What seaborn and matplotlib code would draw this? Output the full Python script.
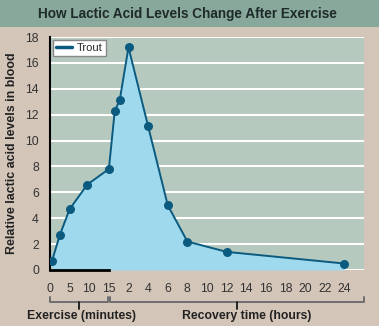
import matplotlib
matplotlib.use("Agg")
import matplotlib.pyplot as plt
import matplotlib.transforms as mtransforms
import seaborn as sns
import pandas as pd
import numpy as np

# ---- data ----
exercise_minutes = [0.5, 2.5, 5, 9.5, 15]
exercise_levels = [0.7, 2.7, 4.7, 6.6, 7.8]
recovery_hours = [0.6, 1.1, 2, 4, 6, 8, 12, 24]
recovery_levels = [12.3, 13.1, 17.2, 11.1, 5.0, 2.2, 1.4, 0.5]
minute_ticks = ["0", "5", "10", "15"]
hour_ticks = ["2", "4", "6", "8", "10", "12", "14", "16", "18", "20", "22", "24"]
series_name = "Trout"

# composite axis: 5 min per unit in exercise, 2 h per unit in recovery (recovery starts at 15 min)
pos = [m / 5 for m in exercise_minutes] + [3 + h / 2 for h in recovery_hours]
df = pd.DataFrame({"pos": pos, "level": exercise_levels + recovery_levels, "series": series_name})

sns.set_theme(style="white")
plt.rcParams["font.family"] = ["Liberation Sans", "DejaVu Sans"]

BEIGE = "#d4c5b9"
BAND = "#87a89b"
PLOTBG = "#b6c9bf"
FILL = "#9fd9ee"
LINE = "#0b5b80"

fig = plt.figure(figsize=(3.79, 3.26), dpi=100, facecolor=BEIGE)
W, H = 379, 326
ax = fig.add_axes([50 / W, (H - 270) / H, 314 / W, 233 / H])
ax.set_facecolor(PLOTBG)

# title band
fig.patches.append(plt.Rectangle((0, (H - 27) / H), 1, 27 / H, transform=fig.transFigure,
                                 facecolor=BAND, edgecolor="none", zorder=0))
fig.text(187 / W, (H - 14) / H, "How Lactic Acid Levels Change After Exercise",
         ha="center", va="center", fontsize=9.8, fontweight="bold", color="#1f2a2a")

ax.fill_between(df["pos"], df["level"], 0, color=FILL, zorder=1, linewidth=0)
sns.lineplot(data=df, x="pos", y="level", hue="series", palette=[LINE], marker="o",
             markersize=6.5, markeredgewidth=0, linewidth=1.4, ax=ax, zorder=3)

ax.set_xlim(0, 16)
ax.set_ylim(0, 18)
ax.set_xticks(range(17))
ax.set_xticklabels(minute_ticks + hour_ticks + [""])
ax.set_xticks(range(2, 17, 2), minor=True)
ax.set_yticks(range(0, 19, 2))
ax.grid(False)
ax.grid(which="minor", axis="x", color="white", linewidth=1.5, zorder=0)
ax.grid(which="major", axis="y", color="white", linewidth=1.5, zorder=0)
ax.set_axisbelow(True)

for s in ["top", "right"]:
    ax.spines[s].set_visible(False)
ax.spines["left"].set_color("black")
ax.spines["left"].set_linewidth(1.5)
ax.spines["bottom"].set_color("black")
ax.spines["bottom"].set_linewidth(2)
ax.spines["bottom"].set_bounds(0, 3)

ax.tick_params(axis="both", which="major", direction="out", color="black", width=1.5,
               labelsize=8.8, labelcolor="#333333")
ax.tick_params(axis="y", length=6, pad=2)
ax.tick_params(axis="x", length=6, pad=3)
ax.tick_params(which="minor", length=0)

ax.set_xlabel("")
ax.set_ylabel("Relative lactic acid levels in blood", fontsize=8.9, fontweight="bold",
              color="#222222", labelpad=5)

# brackets
tr = mtransforms.blended_transform_factory(ax.transData, ax.transAxes)
bc = "#6e6e6e"
for x0, x1 in [(0, 2.95), (3.05, 16)]:
    ax.plot([x0, x0, x1, x1], [-0.118, -0.137, -0.137, -0.118], color=bc, lw=1.4,
            transform=tr, clip_on=False)
    xm = (x0 + x1) / 2
    ax.plot([xm, xm], [-0.137, -0.168], color="#222222", lw=1.4, transform=tr, clip_on=False)
ax.text(1.6, -0.197, "Exercise (minutes)", transform=tr, ha="center", va="center",
        fontsize=8.8, fontweight="bold", color="#222222")
ax.text(10.0, -0.197, "Recovery time (hours)", transform=tr, ha="center", va="center",
        fontsize=8.8, fontweight="bold", color="#222222")

leg = ax.legend(loc="upper left", frameon=True, fontsize=8, handlelength=1.4,
                borderpad=0.3, handletextpad=0.5, borderaxespad=0.25, fancybox=False)
leg.get_frame().set_edgecolor("#888888")
leg.get_frame().set_facecolor("white")
leg.get_frame().set_alpha(1)
for h in leg.legend_handles:
    h.set_marker("")
    h.set_linewidth(2.5)

fig.savefig("out.png", dpi=100, facecolor=BEIGE)
